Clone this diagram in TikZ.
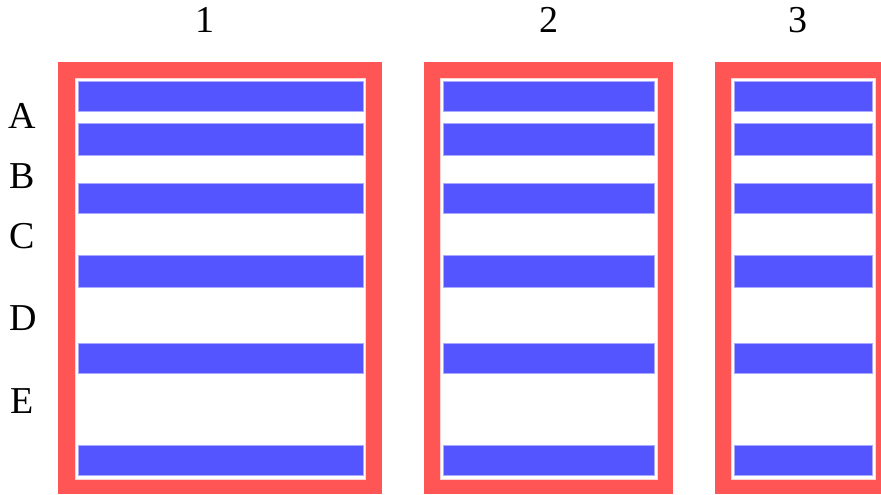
\documentclass[tikz,border=0pt]{standalone}
\usepackage{fontspec}
\setmainfont{Liberation Serif}
\definecolor{framered}{HTML}{FF5555}
\definecolor{barblue}{HTML}{5555FF}
\begin{document}
\begin{tikzpicture}[x=1pt,y=-1pt,
  lbl/.style={inner sep=0pt,anchor=base,font=\fontsize{38}{40}\selectfont},
  frame/.style={fill=framered},
  inner/.style={fill=white,draw=framered!25,line width=0.8pt},
  bar/.style={fill=barblue,draw=barblue!50,line width=0.6pt}]
\useasboundingbox (0,0) rectangle (881,495);
\clip (0,0) rectangle (881,495);
% column labels
\node[lbl] (c1) at (204.5,33) {1};
\node[lbl] (c2) at (548.5,33) {2};
\node[lbl] (c3) at (797.5,33) {3};
% row labels
\node[lbl] (rA) at (22.5,128) {A};
\node[lbl] (rB) at (22.5,188) {B};
\node[lbl] (rC) at (22.5,248) {C};
\node[lbl] (rD) at (23.5,330) {D};
\node[lbl] (rE) at (22.5,413) {E};
% frames
\fill[frame] (58.3,62.3) rectangle (382.3,494.3);
\filldraw[inner] (75.7,78.3) rectangle (365.7,479);
\fill[frame] (424.3,62.3) rectangle (673,494.3);
\filldraw[inner] (440.3,78.3) rectangle (657.3,479);
\fill[frame] (715.3,62.3) rectangle (892,494.3);
\filldraw[inner] (731.3,78.3) rectangle (875.7,479);
% bars
\foreach \t/\b in {81/111.3,123.3/155.3,183/213.3,255.3/287.3,343.3/373.3,445.7/475.7}{
  \filldraw[bar] (78.7,\t) rectangle (363.3,\b);
  \filldraw[bar] (443.3,\t) rectangle (654.3,\b);
  \filldraw[bar] (734.3,\t) rectangle (872.3,\b);
}
\end{tikzpicture}
\end{document}
